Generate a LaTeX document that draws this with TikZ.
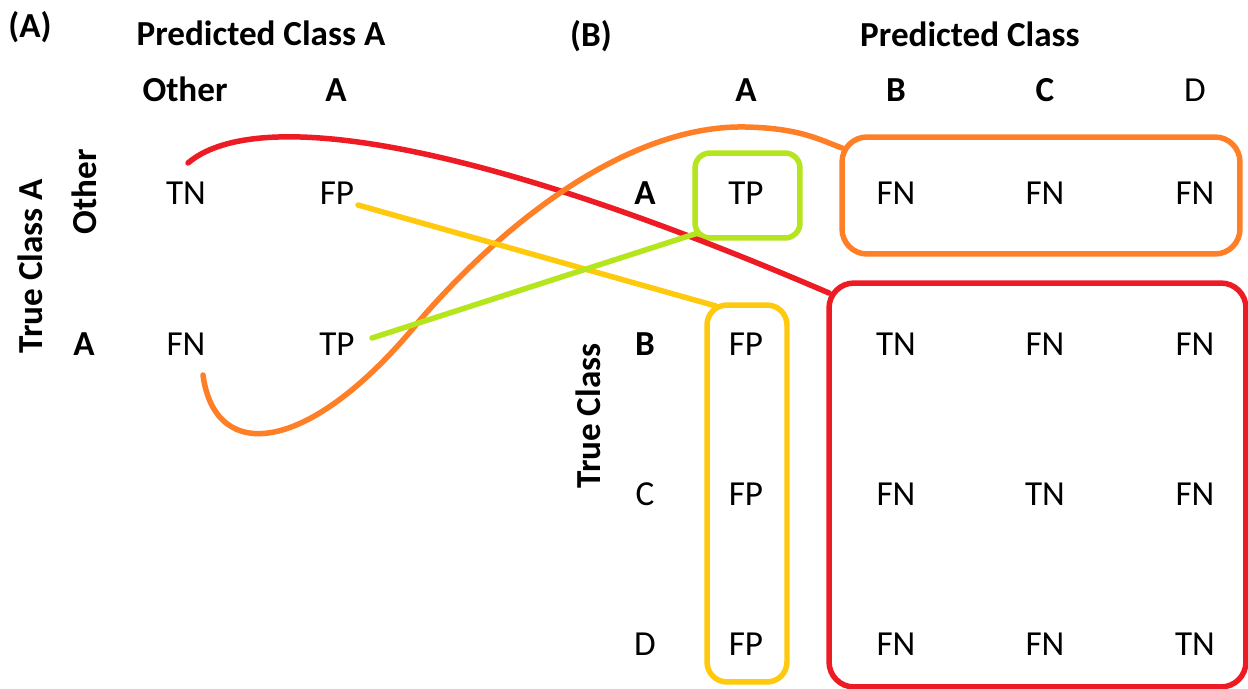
\documentclass[tikz,border=0pt]{standalone}
\usepackage{fontspec}
\setmainfont{Carlito}
\usetikzlibrary{calc}
\definecolor{cred}{HTML}{ED1C24}
\definecolor{corange}{HTML}{FF7F27}
\definecolor{cyellow}{HTML}{FFC90E}
\definecolor{cgreen}{HTML}{B5E61D}
\begin{document}
\begin{tikzpicture}[x=0.02cm,y=-0.02cm,
  txt/.style={font=\fontsize{20}{24}\selectfont, anchor=base, inner sep=0pt},
  btxt/.style={font=\fontsize{20}{24}\selectfont\bfseries, anchor=base, inner sep=0pt},
  rtxt/.style={font=\fontsize{20}{24}\selectfont\bfseries, anchor=center, inner sep=0pt, rotate=90},
  hbox/.style={draw, line width=0.11cm, inner sep=0pt, outer sep=0pt},
  conn/.style={line width=0.11cm, line cap=round}]
\useasboundingbox (0,0) rectangle (1248,689);
\fill[white] (0,0) rectangle (1248,689);

% ---------- Panel A ----------
\node[btxt] (labA) at (30,38) {(A)};
\node[btxt] (predA) at (261,46) {Predicted Class A};
\node[btxt] (colOther) at (185,102) {Other};
\node[btxt] (colA) at (336,102) {A};
\node[rtxt] (trueA) at (30,266) {True Class A};
\node[rtxt] (rowOther) at (84.5,192) {Other};
\node[btxt] (rowA) at (84,356) {A};
\node[txt] (aTN) at (186,205) {TN};
\node[txt] (aFP) at (337,205) {FP};
\node[txt] (aFN) at (186,356) {FN};
\node[txt] (aTP) at (337,356) {TP};

% ---------- Panel B ----------
\node[btxt] (labB) at (591,47) {(B)};
\node[btxt] (predB) at (970,47) {Predicted Class};
\node[btxt] (cA) at (746,102) {A};
\node[btxt] (cB) at (896,102) {B};
\node[btxt] (cC) at (1045,102) {C};
\node[txt]  (cD) at (1195,102) {D};
\node[rtxt] (trueB) at (588,416) {True Class};
\node[btxt] (rA) at (645,205) {A};
\node[btxt] (rB) at (645,356) {B};
\node[txt]  (rC) at (645,505) {C};
\node[txt]  (rD) at (645,655) {D};

\node[txt] (b11) at (746,205) {TP};
\node[txt] (b12) at (896,205) {FN};
\node[txt] (b13) at (1045,205) {FN};
\node[txt] (b14) at (1195,205) {FN};
\node[txt] (b21) at (746,356) {FP};
\node[txt] (b22) at (896,356) {TN};
\node[txt] (b23) at (1045,356) {FN};
\node[txt] (b24) at (1195,356) {FN};
\node[txt] (b31) at (746,505) {FP};
\node[txt] (b32) at (896,505) {FN};
\node[txt] (b33) at (1045,505) {TN};
\node[txt] (b34) at (1195,505) {FN};
\node[txt] (b41) at (746,655) {FP};
\node[txt] (b42) at (896,655) {FN};
\node[txt] (b43) at (1045,655) {FN};
\node[txt] (b44) at (1195,655) {TN};

% ---------- highlight boxes ----------
\node[hbox, draw=cgreen, rounded corners=0.3cm, minimum width=2.1cm, minimum height=1.7cm] (gbox) at (747.5,195.5) {};
\node[hbox, draw=corange, rounded corners=0.5cm, minimum width=7.96cm, minimum height=2.34cm] (obox) at (1041,195.5) {};
\node[hbox, draw=cyellow, rounded corners=0.4cm, minimum width=1.6cm, minimum height=7.54cm] (ybox) at (747,493.5) {};
\node[hbox, draw=cred, rounded corners=0.5cm, minimum width=8.34cm, minimum height=8.08cm] (rbox) at (1037.5,485) {};

% ---------- connectors ----------
\coordinate (rs) at (188,163);
\coordinate (os) at (203,375);
\coordinate (ys) at (358,205);
\coordinate (gs) at (372,338);

\draw[conn, cred] (rs) .. controls (250,110) and (450,130) .. ($(rbox.north west)+(0,10)$);
\draw[conn, corange] (os) .. controls (215,465) and (310,455) .. (420,320)
   .. controls (520,205) and (640,125) .. (745,127)
   .. controls (800,128) and (820,140) .. ($(obox.north west)+(0,11)$);
\draw[conn, cyellow] (ys) -- ($(ybox.north west)+(9,1)$);
\draw[conn, cgreen] (gs) -- ($(gbox.south west)+(3,-5)$);
\end{tikzpicture}
\end{document}
